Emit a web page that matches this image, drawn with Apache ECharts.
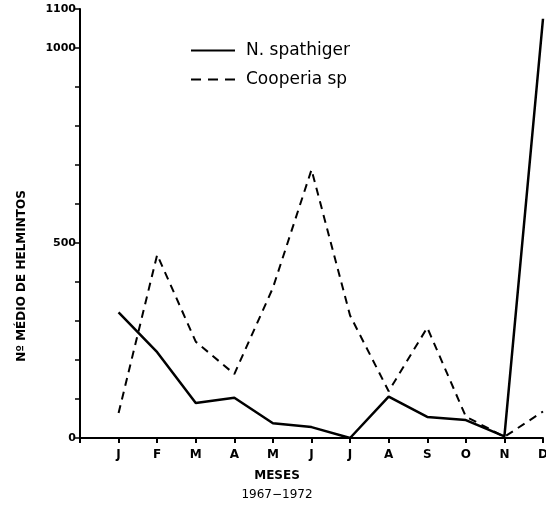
<!DOCTYPE html>
<html>
<head>
<meta charset="utf-8">
<script src="https://cdn.jsdelivr.net/npm/echarts@6/dist/echarts.min.js"></script>
<style>html,body{margin:0;padding:0;background:#fff}#c{width:546px;height:505px}</style>
</head>
<body>
<div id="c"></div>
<script>
var months = ['', 'J', 'F', 'M', 'A', 'M', 'J', 'J', 'A', 'S', 'O', 'N', 'D'];
var nSpathiger = [null, 322, 220, 90, 103, 38, 28, 0, 106, 54, 46, 4, 1075];
var cooperia = [null, 64, 470, 247, 164, 385, 688, 314, 120, 283, 55, 3, 68];
var yLabels = [0, 500, 1000, 1100];

var chart = echarts.init(document.getElementById('c'));
chart.setOption({
  animation: false,
  backgroundColor: '#fff',
  textStyle: { fontFamily: 'DejaVu Sans', color: '#000' },
  grid: { left: 80, right: 3, top: 9, bottom: 67, containLabel: false, outerBoundsMode: 'none' },
  legend: {
    orient: 'vertical', left: 186, top: 37, itemWidth: 44, itemHeight: 10, itemGap: 12,
    textStyle: { fontSize: 17, color: '#000', fontFamily: 'DejaVu Sans', padding: [0, 0, 0, 6] },
    data: [{ name: 'N. spathiger', icon: 'path://M0,4H44V6H0Z' }, { name: 'Cooperia sp', icon: 'path://M0,4H10V6H0ZM17,4H27V6H17ZM34,4H44V6H34Z' }]
  },
  title: [
    { text: 'MESES', left: 272, top: 465, textAlign: 'center', textStyle: { fontSize: 12, fontWeight: 'bold', color: '#000', fontFamily: 'DejaVu Sans' } },
    { text: '1967−1972', left: 272, top: 484, textAlign: 'center', textStyle: { fontSize: 12, fontWeight: 'normal', color: '#000', fontFamily: 'DejaVu Sans' } }
  ],
  graphic: [{
    type: 'text', x: 22, y: 276, rotation: Math.PI / 2,
    style: { text: 'Nº MÉDIO DE HELMINTOS', fontSize: 12, fontWeight: 'bold', fill: '#000', fontFamily: 'DejaVu Sans', align: 'center', verticalAlign: 'middle' }
  }],
  xAxis: {
    type: 'category', data: months, boundaryGap: false,
    axisLine: { lineStyle: { color: '#000', width: 2 } },
    axisTick: { show: true, length: 5, lineStyle: { color: '#000', width: 2 }, alignWithLabel: true },
    axisLabel: { interval: 0, fontSize: 12, fontWeight: 'bold', color: '#000', margin: 11 },
    splitLine: { show: false }
  },
  yAxis: {
    type: 'value', min: 0, max: 1100, interval: 100,
    axisLine: { show: true, lineStyle: { color: '#000', width: 2 } },
    axisTick: { show: true, length: 5, lineStyle: { color: '#000', width: 1.5 } },
    axisLabel: {
      fontSize: 11, fontWeight: 'bold', color: '#000', margin: 4,
      formatter: function (v) { return yLabels.indexOf(v) >= 0 ? String(v) : ''; }
    },
    splitLine: { show: false }
  },
  series: [
    { name: 'N. spathiger', type: 'line', data: nSpathiger, symbol: 'none', connectNulls: false,
      lineStyle: { color: '#000', width: 2.5, type: 'solid' }, itemStyle: { color: '#000' } },
    { name: 'Cooperia sp', type: 'line', data: cooperia, symbol: 'none',
      lineStyle: { color: '#000', width: 2, type: [8, 6] }, itemStyle: { color: '#000' } }
  ]
});
</script>
</body>
</html>
